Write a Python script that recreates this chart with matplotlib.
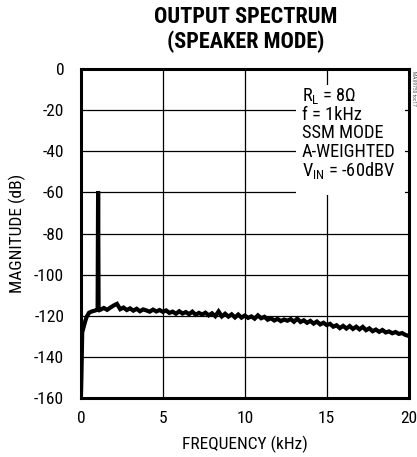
import matplotlib
matplotlib.use('Agg')
import matplotlib.pyplot as plt
from matplotlib.patches import Rectangle

plt.rcParams['font.family'] = ['Roboto Condensed', 'DejaVu Sans']
plt.rcParams['mathtext.fontset'] = 'custom'
plt.rcParams['mathtext.rm'] = 'Roboto Condensed'
plt.rcParams['mathtext.it'] = 'Roboto Condensed'

# spectrum trace, frequency in kHz, magnitude in dB
# rising edge and 1kHz tone
low_freq_khz = [0.0, 0.03, 0.08, 0.15, 0.25, 0.35, 0.5, 0.7, 0.85, 0.95, 1.02, 1.05, 1.08, 1.12]
low_mag_db = [-160.0, -150.0, -128.0, -126.0, -123.0, -120.5, -118.5, -117.8, -117.5, -117.2,
              -117.0, -59.5, -117.0, -117.3]

# noise floor
floor_freq_khz = [
    1.2, 1.4, 1.6, 1.8, 2.0, 2.2, 2.4, 2.6, 2.8, 3.0,
    3.2, 3.4, 3.6, 3.8, 4.0, 4.2, 4.4, 4.6, 4.8, 5.0,
    5.2, 5.4, 5.6, 5.8, 6.0, 6.2, 6.4, 6.6, 6.8, 7.0,
    7.2, 7.4, 7.6, 7.8, 8.0, 8.2, 8.4, 8.6, 8.8, 9.0,
    9.2, 9.4, 9.6, 9.8, 10.0, 10.2, 10.4, 10.6, 10.8, 11.0,
    11.2, 11.4, 11.6, 11.8, 12.0, 12.2, 12.4, 12.6, 12.8, 13.0,
    13.2, 13.4, 13.6, 13.8, 14.0, 14.2, 14.4, 14.6, 14.8, 15.0,
    15.2, 15.4, 15.6, 15.8, 16.0, 16.2, 16.4, 16.6, 16.8, 17.0,
    17.2, 17.4, 17.6, 17.8, 18.0, 18.2, 18.4, 18.6, 18.8, 19.0,
    19.2, 19.4, 19.6, 19.8, 20.0,
]
floor_mag_db = [
    -117.0, -116.2, -117.1, -116.0, -115.0, -114.2, -116.8, -116.0, -117.2, -116.4,
    -117.5, -116.6, -117.8, -116.9, -117.4, -118.0, -117.0, -117.9, -117.2, -118.1,
    -117.4, -118.6, -118.0, -119.0, -117.8, -118.9, -118.2, -119.2, -118.0, -119.5,
    -118.6, -119.4, -118.5, -119.8, -118.8, -120.2, -117.9, -120.3, -119.0, -120.4,
    -119.3, -120.8, -119.4, -120.9, -119.9, -121.0, -120.3, -121.4, -119.8, -121.2,
    -120.5, -121.9, -121.2, -122.3, -121.5, -122.6, -121.8, -122.4, -121.6, -122.9,
    -121.4, -123.0, -122.2, -123.4, -122.5, -123.8, -122.8, -124.2, -123.4, -124.5,
    -123.9, -125.3, -124.6, -126.0, -124.9, -126.2, -125.0, -126.4, -125.3, -126.6,
    -125.4, -127.0, -126.1, -127.5, -126.7, -127.8, -126.9, -128.1, -127.6, -128.5,
    -127.9, -128.8, -128.4, -129.3, -129.8,
]

x_ticks = [0, 5, 10, 15, 20]
y_ticks = [0, -20, -40, -60, -80, -100, -120, -140, -160]

conditions = [
    r'R$_\mathregular{L}$ = 8$\mathregular{\Omega}$',
    'f = 1kHz',
    'SSM MODE',
    'A-WEIGHTED',
    r'V$_\mathregular{IN}$ = -60dBV',
]


def main() -> None:
    fig = plt.figure(figsize=(4.17, 4.57), dpi=100)
    ax = fig.add_axes([0.194, 0.129, 0.786, 0.720])

    freq = low_freq_khz + floor_freq_khz
    mag = low_mag_db + floor_mag_db
    ax.plot(freq, mag, color='black', lw=3.0, solid_joinstyle='miter', zorder=3)

    ax.set_xlim(0, 20)
    ax.set_ylim(-160, 0)
    ax.set_xticks(x_ticks)
    ax.set_yticks(y_ticks)
    ax.set_yticklabels([str(v) for v in y_ticks])
    ax.tick_params(length=0, labelsize=12.5)
    ax.tick_params(axis='x', pad=9)
    ax.tick_params(axis='y', pad=12)
    ax.set_axisbelow(True)
    ax.grid(True, color='black', lw=0.9)
    for s in ax.spines.values():
        s.set_linewidth(2.2)
        s.set_zorder(5)

    ax.set_xlabel('FREQUENCY (kHz)', fontsize=12.5, labelpad=7)
    ax.set_ylabel('MAGNITUDE (dB)', fontsize=12.5, labelpad=6)

    fig.text(0.589, 0.963, 'OUTPUT SPECTRUM', ha='center', va='center',
             fontsize=16, fontweight='bold')
    fig.text(0.589, 0.909, '(SPEAKER MODE)', ha='center', va='center',
             fontsize=16, fontweight='bold')

    # white block behind the test conditions, hides the grid there
    ax.add_patch(Rectangle((13.1, -61.5), 6.65, 53.5, facecolor='white',
                           edgecolor='none', zorder=1))
    baselines = [0.903, 0.846, 0.789, 0.732, 0.675]
    for line, yb in zip(conditions, baselines):
        ax.text(0.674, yb, line, transform=ax.transAxes, ha='left',
                va='baseline', fontsize=13.2, zorder=4)

    fig.text(0.991, 0.845, 'MAX9750 toc17', rotation=-90, fontsize=4,
             color='#555555', ha='center', va='top')

    fig.savefig('out.png', dpi=100)
    plt.close(fig)


if __name__ == '__main__':
    main()
